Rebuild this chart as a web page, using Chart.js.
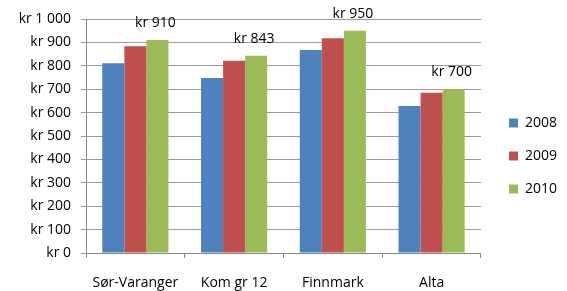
<!DOCTYPE html>
<html>
<head>
<meta charset="utf-8">
<script src="https://cdn.jsdelivr.net/npm/chart.js@4"></script>
<style>
  html, body { margin: 0; padding: 0; background: #fff; }
  #wrap { width: 567px; height: 291px; }
</style>
</head>
<body>
<div id="wrap"><canvas id="chart"></canvas></div>
<script>
// categories and values
const categories = ['Sør-Varanger', 'Kom gr 12', 'Finnmark', 'Alta'];
const years = ['2008', '2009', '2010'];
const values2008 = [811, 748, 867, 628];
const values2009 = [884, 822, 918, 685];
const values2010 = [910, 843, 950, 700];
const colors = ['#4f81bd', '#c0504d', '#9bbb59'];

const fmtKr = v => 'kr ' + String(v).replace(/\B(?=(\d{3})+(?!\d))/g, ' ');
const FONT = '"Open Sans", sans-serif';

// labels on top of the 2010 bars only
const topLabels = {
  id: 'topLabels',
  afterDatasetsDraw(chart) {
    const ctx = chart.ctx;
    const meta = chart.getDatasetMeta(2);
    ctx.save();
    ctx.font = '14px ' + FONT;
    ctx.fillStyle = '#000';
    ctx.textAlign = 'center';
    ctx.textBaseline = 'middle';
    meta.data.forEach((bar, i) => {
      ctx.fillText(fmtKr(values2010[i]), bar.x - 2, bar.y - 17);
    });
    ctx.restore();
  }
};

// leave a gap between plot area and legend without moving the legend items
const GAP = 9;
const legendGap = {
  id: 'legendGap',
  beforeUpdate(chart) {
    const lg = chart.legend;
    if (lg && !lg._gap) {
      const fit = lg.fit.bind(lg);
      lg.fit = function () { fit(); this.width += GAP; };
      lg._gap = true;
    }
  },
  afterLayout(chart) {
    const lg = chart.legend;
    if (lg) {
      lg.left += GAP;
      lg.top += 1;
      lg.bottom += 1;
    }
  }
};

new Chart(document.getElementById('chart'), {
  type: 'bar',
  data: {
    labels: categories,
    datasets: [
      { label: years[0], data: values2008, backgroundColor: colors[0] },
      { label: years[1], data: values2009, backgroundColor: colors[1] },
      { label: years[2], data: values2010, backgroundColor: colors[2] }
    ]
  },
  options: {
    responsive: true,
    maintainAspectRatio: false,
    animation: false,
    datasets: { bar: { categoryPercentage: 0.67, barPercentage: 1 } },
    layout: { padding: { top: 19, left: 0, right: 0, bottom: 0 } },
    plugins: {
      legend: {
        position: 'right',
        labels: {
          boxWidth: 9,
          boxHeight: 9,
          padding: 19,
          color: '#000',
          font: { family: FONT, size: 14 }
        }
      },
      tooltip: { enabled: false }
    },
    scales: {
      x: {
        afterFit(scale) { scale.height = 38; },
        grid: { display: true, drawOnChartArea: false, offset: true, tickLength: 5, color: '#888' },
        border: { color: '#888' },
        ticks: { color: '#000', padding: 17, font: { family: FONT, size: 14 } }
      },
      y: {
        min: 0,
        max: 1000,
        afterFit(scale) { scale.width = 86; },
        grid: { color: '#999', tickLength: 5 },
        border: { color: '#888' },
        ticks: {
          stepSize: 100,
          color: '#000',
          padding: 10,
          font: { family: FONT, size: 14 },
          callback: v => fmtKr(v)
        }
      }
    }
  },
  plugins: [topLabels, legendGap]
});
</script>
</body>
</html>
